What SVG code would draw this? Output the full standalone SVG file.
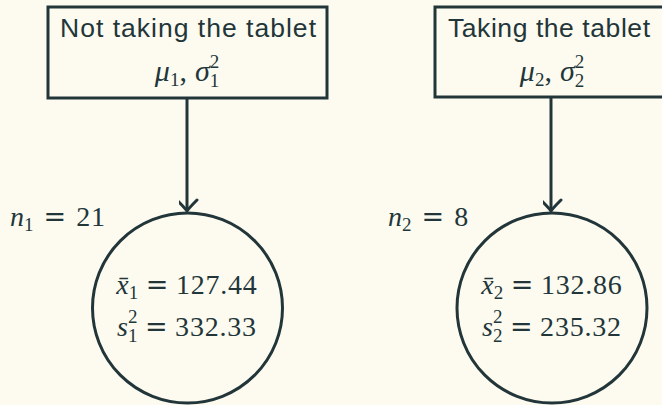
<svg xmlns="http://www.w3.org/2000/svg" width="662" height="405" viewBox="0 0 662 405">
<defs>
<style>
.bg{fill:#fdfbf0}
.box{fill:none;stroke:#22363a;stroke-width:3}
.circ{fill:none;stroke:#22363a;stroke-width:3}
.con{fill:none;stroke:#22363a;stroke-width:3}
.t{font-family:"Liberation Sans",Arial,sans-serif;font-size:26.5px;fill:#22363a}
.m{font-family:"Liberation Serif","Times New Roman",serif;font-size:28px;fill:#22363a}
.mb{font-size:30px}
.i{font-style:italic}
.s{font-size:19px}
.eq{font-family:"DejaVu Serif",serif;font-size:27px}
.d{letter-spacing:0.8px}
</style>
<marker id="arr" markerUnits="userSpaceOnUse" markerWidth="30" markerHeight="20" viewBox="-15 -12 30 20" refX="0" refY="0" orient="auto-start-reverse">
<path d="M-10,-11 Q-2,-3 0,0 Q2,-3 10,-11" transform="rotate(-90)" fill="none" stroke="#22363a" stroke-width="3" stroke-linecap="round"/>
</marker>
</defs>
<rect class="bg" x="0" y="0" width="662" height="405"/>
<g id="connectors">
<line class="con" x1="187" y1="98" x2="187" y2="211" marker-end="url(#arr)"/>
<line class="con" x1="551" y1="97" x2="551" y2="211" marker-end="url(#arr)"/>
</g>
<g id="box1">
<rect class="box" x="48" y="7" width="279" height="91"/>
<text class="t" x="60" y="37" textLength="256" lengthAdjust="spacing">Not taking the tablet</text>
<text class="m mb" x="187" y="81" text-anchor="middle"><tspan class="i">μ</tspan><tspan class="s" dy="5">1</tspan><tspan dy="-5">,</tspan><tspan class="i" dx="8">σ</tspan><tspan class="s" dy="-13">2</tspan><tspan class="s" dx="-9.5" dy="19">1</tspan><tspan dy="-6"> </tspan></text>
</g>
<g id="box2">
<rect class="box" x="435" y="7" width="232" height="90"/>
<text class="t" x="448" y="37" textLength="202" lengthAdjust="spacing">Taking the tablet</text>
<text class="m mb" x="552" y="81" text-anchor="middle"><tspan class="i">μ</tspan><tspan class="s" dy="5">2</tspan><tspan dy="-5">,</tspan><tspan class="i" dx="8">σ</tspan><tspan class="s" dy="-13">2</tspan><tspan class="s" dx="-9.5" dy="19">2</tspan><tspan dy="-6"> </tspan></text>
</g>
<g id="sample1">
<circle class="circ" cx="187.5" cy="308" r="95"/>
<text class="m" x="10" y="226"><tspan class="i">n</tspan><tspan class="s" dy="5">1</tspan><tspan class="eq" dy="-5" dx="10">=</tspan><tspan class="d" dx="10">21</tspan></text>
<text class="m" x="187" y="294" text-anchor="middle"><tspan class="i">x̄</tspan><tspan class="s" dy="5">1</tspan><tspan class="eq" dy="-5" dx="7.5">=</tspan><tspan class="d" dx="7.5">127.44</tspan></text>
<text class="m" x="187" y="336" text-anchor="middle"><tspan class="i">s</tspan><tspan class="s" dy="-13">2</tspan><tspan class="s" dx="-9.5" dy="19">1</tspan><tspan class="eq" dy="-6" dx="7.5">=</tspan><tspan class="d" dx="7.5">332.33</tspan></text>
</g>
<g id="sample2">
<circle class="circ" cx="552" cy="308" r="95"/>
<text class="m" x="388" y="226"><tspan class="i">n</tspan><tspan class="s" dy="5">2</tspan><tspan class="eq" dy="-5" dx="10">=</tspan><tspan class="d" dx="10">8</tspan></text>
<text class="m" x="552" y="294" text-anchor="middle"><tspan class="i">x̄</tspan><tspan class="s" dy="5">2</tspan><tspan class="eq" dy="-5" dx="7.5">=</tspan><tspan class="d" dx="7.5">132.86</tspan></text>
<text class="m" x="552" y="336" text-anchor="middle"><tspan class="i">s</tspan><tspan class="s" dy="-13">2</tspan><tspan class="s" dx="-9.5" dy="19">2</tspan><tspan class="eq" dy="-6" dx="7.5">=</tspan><tspan class="d" dx="7.5">235.32</tspan></text>
</g>
</svg>
